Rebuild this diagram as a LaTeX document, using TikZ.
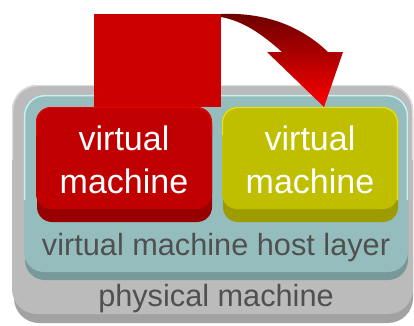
\documentclass[tikz,border=0pt]{standalone}
\usepackage{fontspec}
\setmainfont{Liberation Sans}
\definecolor{grayface}{HTML}{BBBBBB}
\definecolor{grayband}{HTML}{A2A2A2}
\definecolor{grayedge}{HTML}{DCDCDC}
\definecolor{tealface}{HTML}{96BDBD}
\definecolor{tealband}{HTML}{789999}
\definecolor{tealedge}{HTML}{C4F0F0}
\definecolor{redface}{HTML}{C00000}
\definecolor{redband}{HTML}{980000}
\definecolor{rededge}{HTML}{E40000}
\definecolor{yelface}{HTML}{BFBF00}
\definecolor{yelband}{HTML}{9C9C00}
\definecolor{yeledge}{HTML}{E6E600}
\definecolor{blockred}{HTML}{CC0000}
\definecolor{arrowdark}{HTML}{6A0000}
\definecolor{textgray}{HTML}{505050}
\tikzset{
  vmtext/.style={font=\fontsize{34}{40}\selectfont, text=white, anchor=base, inner sep=0pt},
  layertext/.style={font=\fontsize{30.7}{36}\selectfont, text=textgray, anchor=base, inner sep=0pt},
}
\begin{document}
\begin{tikzpicture}[x=1pt,y=-1pt]
\useasboundingbox (0,0) rectangle (414,325);
% physical machine
\fill[grayband, rounded corners=25pt] (14,92) rectangle (413,323);
\fill[grayface, rounded corners=25pt] (12,85) rectangle (413,314);
\draw[grayedge, line width=1.2pt, rounded corners=25pt] (12.6,160) -- (12.6,85.6) -- (412.4,85.6) -- (412.4,160);
% host layer
\fill[tealband, rounded corners=20pt] (25,100) rectangle (408,280);
\fill[tealface, rounded corners=20pt] (24,95) rectangle (408,272);
\draw[tealedge, line width=1.5pt, rounded corners=20pt] (24.7,200) -- (24.7,95.7) -- (407.3,95.7) -- (407.3,200);
% virtual machines
\fill[redband, rounded corners=15pt] (37,112) rectangle (212,222);
\fill[redface, rounded corners=15pt] (36,107) rectangle (212,209);
\draw[rededge, line width=1.2pt, rounded corners=15pt] (36.6,135) -- (36.6,107.6) -- (211.4,107.6) -- (211.4,135);
\fill[yelband, rounded corners=15pt] (223,112) rectangle (398,222);
\fill[yelface, rounded corners=15pt] (222,107) rectangle (398,209);
\draw[yeledge, line width=1.2pt, rounded corners=15pt] (222.6,135) -- (222.6,107.6) -- (397.4,107.6) -- (397.4,200);
% red block
\fill[blockred] (94,14) rectangle (221,107);
% curved block arrow
\coordinate (a0) at (221,14);
\coordinate (tip) at (324,107);
\shade[top color=arrowdark, bottom color=red]
  (a0) .. controls (268,12) and (303,28) .. (328,52)
  -- (343,52) -- (tip) -- (267,52) -- (282,52)
  .. controls (262,34) and (243,21) .. (221,17) -- cycle;
% texts
\node[vmtext] (v1) at (124,150) {virtual};
\node[vmtext] (m1) at (124,193) {machine};
\node[vmtext] (v2) at (310,150) {virtual};
\node[vmtext] (m2) at (310,193) {machine};
\node[layertext] (host) at (216,255) {virtual machine host layer};
\node[layertext] (phys) at (216,306) {physical machine};
\end{tikzpicture}
\end{document}
